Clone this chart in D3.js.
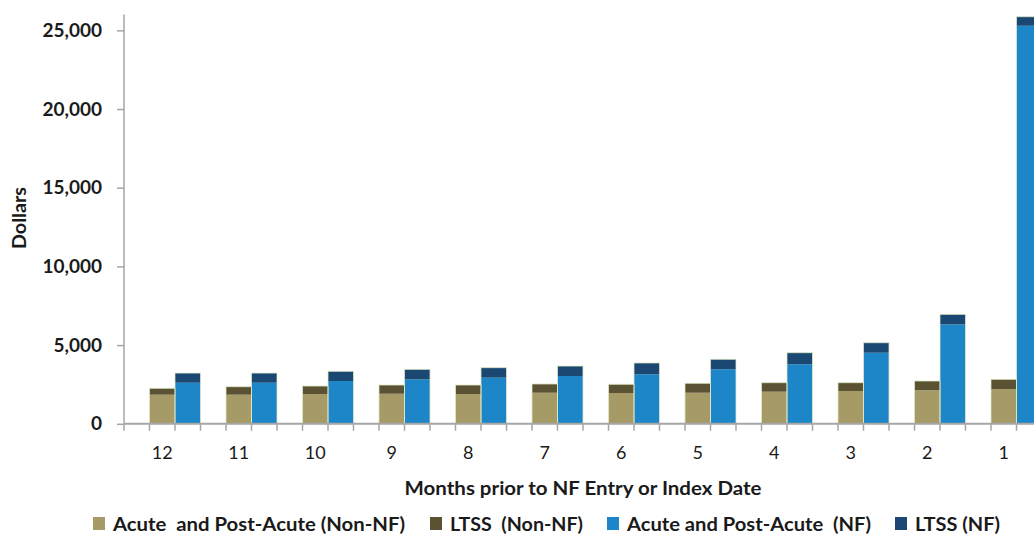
<!DOCTYPE html>
<html>
<head>
<meta charset="utf-8">
<script src="https://cdn.jsdelivr.net/npm/d3@7/dist/d3.min.js"></script>
<style>
  html, body { margin: 0; padding: 0; background: #fff; overflow: hidden; }
  svg { display: block; }
  text { font-family: Lato, "Open Sans", sans-serif; fill: #1a1a1a; }
</style>
</head>
<body>
<svg id="chart" width="1034" height="538"></svg>
<script>
// Months before nursing facility entry (or index date)
const months = ["12", "11", "10", "9", "8", "7", "6", "5", "4", "3", "2", "1"];

// Average monthly spending, dollars
const acuteNonNF = [1850, 1850, 1890, 1910, 1890, 1975, 1955, 1975, 2040, 2085, 2130, 2210];
const ltssNonNF  = [405, 505, 510, 555, 575, 555, 555, 600, 570, 525, 590, 615];
const acuteNF    = [2610, 2610, 2720, 2825, 2930, 3035, 3145, 3465, 3780, 4515, 6320, 25290];
const ltssNF     = [615, 615, 615, 635, 635, 635, 720, 635, 735, 635, 635, 575];

const yTicks = [0, 5000, 10000, 15000, 20000, 25000];

const seriesNames = [
  "Acute  and Post-Acute (Non-NF)",
  "LTSS  (Non-NF)",
  "Acute and Post-Acute  (NF)",
  "LTSS (NF)"
];
const colors = ["#a69a66", "#5a5233", "#1c86c8", "#1a4872"];

const svg = d3.select("#chart");
const x0 = 124, yZero = 423.8, yTop = 14.6;
const step = 76.5;

const x = d3.scaleBand().domain(months).range([x0, x0 + step * months.length]).padding(0);
const slot = d3.scaleBand().domain(["gap", "nonnf", "nf"]).range([0, x.bandwidth()]).padding(0);
const y = d3.scaleLinear().domain([0, 26000]).range([yZero, yTop]);

// stacked segments per month: non-NF bar and NF bar
const segments = [];
const totals = [];
months.forEach((m, i) => {
  segments.push({ m, g: "nonnf", y0: 0, y1: acuteNonNF[i], c: 0 });
  segments.push({ m, g: "nonnf", y0: acuteNonNF[i], y1: acuteNonNF[i] + ltssNonNF[i], c: 1 });
  segments.push({ m, g: "nf", y0: 0, y1: acuteNF[i], c: 2 });
  segments.push({ m, g: "nf", y0: acuteNF[i], y1: acuteNF[i] + ltssNF[i], c: 3 });
  totals.push({ m, g: "nonnf", v: acuteNonNF[i] + ltssNonNF[i] });
  totals.push({ m, g: "nf", v: acuteNF[i] + ltssNF[i] });
});

svg.append("g").selectAll("rect")
  .data(segments)
  .join("rect")
  .attr("x", d => x(d.m) + slot(d.g))
  .attr("width", slot.bandwidth())
  .attr("y", d => y(d.y1))
  .attr("height", d => y(d.y0) - y(d.y1))
  .attr("fill", d => colors[d.c]);

// pale outline around each whole stacked bar
svg.append("g").selectAll("rect")
  .data(totals)
  .join("rect")
  .attr("x", d => x(d.m) + slot(d.g))
  .attr("width", slot.bandwidth())
  .attr("y", d => y(d.v))
  .attr("height", d => y(0) - y(d.v))
  .attr("fill", "none")
  .attr("stroke", "#dfe9c4")
  .attr("stroke-opacity", 0.85)
  .attr("stroke-width", 0.9);

// Y axis
const yAxis = svg.append("g")
  .attr("transform", `translate(${x0},0)`)
  .call(d3.axisLeft(y).tickValues(yTicks).tickSize(7).tickPadding(15)
    .tickFormat(d3.format(",")));
yAxis.select(".domain").attr("d", `M0,${yTop}V${yZero}`).attr("stroke", "#a6a6a6").attr("stroke-width", 1.5);
yAxis.selectAll(".tick line").attr("stroke", "#a6a6a6").attr("stroke-width", 1.5);
yAxis.selectAll(".tick text")
  .attr("font-family", "Lato, sans-serif")
  .attr("font-size", 19).attr("font-weight", 700).attr("fill", "#111");

// X axis: baseline, ticks at each slot boundary, labels under the first bar
const xg = svg.append("g");
xg.append("line")
  .attr("x1", x0).attr("x2", 1034).attr("y1", yZero).attr("y2", yZero)
  .attr("stroke", "#a6a6a6").attr("stroke-width", 2);
const tickXs = [];
months.forEach(m => {
  tickXs.push(x(m), x(m) + slot("nonnf"), x(m) + slot("nf"));
});
xg.selectAll("line.tk").data(tickXs).join("line")
  .attr("class", "tk")
  .attr("x1", d => d).attr("x2", d => d)
  .attr("y1", yZero).attr("y2", yZero + 7)
  .attr("stroke", "#a6a6a6").attr("stroke-width", 1.5);
xg.selectAll("text").data(months).join("text")
  .attr("x", d => x(d) + slot("nonnf") + slot.bandwidth() / 2)
  .attr("y", 459)
  .attr("text-anchor", "middle")
  .attr("font-size", 18)
  .attr("fill", "#111")
  .text(d => d);

// Axis titles
svg.append("text")
  .attr("transform", "translate(26,218) rotate(-90)")
  .attr("text-anchor", "middle")
  .attr("font-size", 19).attr("font-weight", 700)
  .attr("textLength", 62).attr("lengthAdjust", "spacingAndGlyphs")
  .text("Dollars");
svg.append("text")
  .attr("x", 583).attr("y", 495)
  .attr("text-anchor", "middle")
  .attr("font-size", 19).attr("font-weight", 700)
  .attr("textLength", 357).attr("lengthAdjust", "spacingAndGlyphs")
  .text("Months prior to NF Entry or Index Date");

// Legend
const legendX = [93, 430, 607, 895];
const legendW = [292, 133, 244, 85];
const lg = svg.append("g").selectAll("g").data(seriesNames).join("g")
  .attr("transform", (d, i) => `translate(${legendX[i]},517)`);
lg.append("rect").attr("width", 12).attr("height", 13).attr("y", 0)
  .attr("fill", (d, i) => colors[i]);
lg.append("text")
  .attr("x", 20).attr("y", 14)
  .attr("font-size", 19).attr("font-weight", 700)
  .attr("textLength", (d, i) => legendW[i]).attr("lengthAdjust", "spacingAndGlyphs")
  .style("white-space", "pre")
  .text(d => d);
</script>
</body>
</html>
